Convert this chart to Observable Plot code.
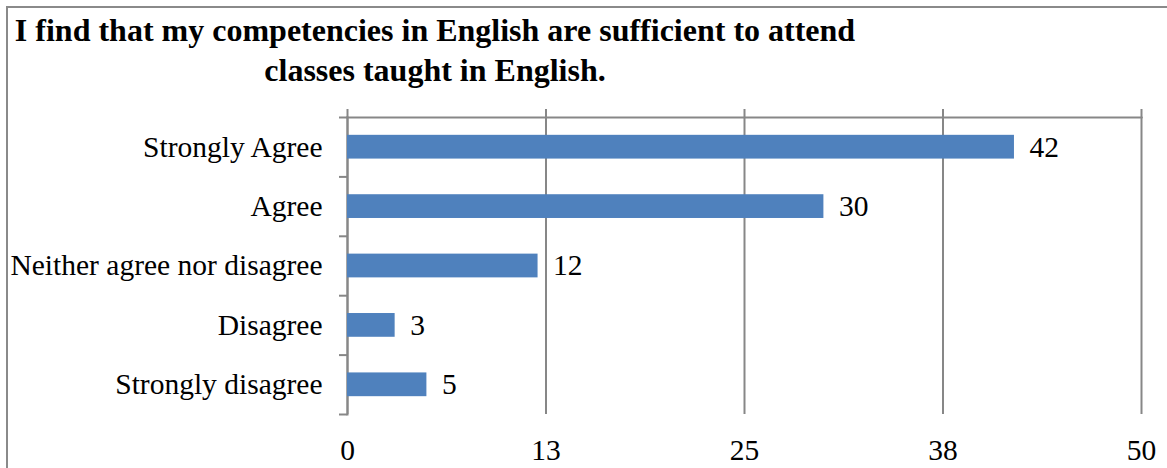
<!DOCTYPE html>
<html>
<head>
<meta charset="utf-8">
<script src="https://cdn.jsdelivr.net/npm/d3@7"></script>
<script src="https://cdn.jsdelivr.net/npm/@observablehq/plot@0.6"></script>
<style>
  body { margin: 0; background: #fff; }
  #wrap { position: relative; width: 1167px; height: 468px; overflow: hidden; background: #fff; }
  #border { position: absolute; left: 6px; top: 6px; width: 1300px; height: 600px;
            border-left: 2px solid #8a8a8a; border-top: 2px solid #8a8a8a; }
  #chart { position: absolute; left: 0; top: 0; }
  #title { position: absolute; left: 14px; top: 10px; width: 842px; text-align: center;
           font: bold 32px "Liberation Serif", "Times New Roman", serif; line-height: 40px; color: #000;
           white-space: nowrap; }
</style>
</head>
<body>
<div id="wrap">
  <div id="border"></div>
  <div id="chart"></div>
  <div id="title">I find that my competencies in English are sufficient to attend<br>classes taught in English.</div>
</div>
<script>
const categories = ["Strongly Agree", "Agree", "Neither agree nor disagree", "Disagree", "Strongly disagree"];
const values = [42, 30, 12, 3, 5];
const xTicks = [0, 12.5, 25, 37.5, 50];
const xTickLabels = ["0", "13", "25", "38", "50"];

const rows = categories.map((c, i) => ({cat: c, value: values[i], i}));
const boundaries = d3.range(categories.length + 1);
const gray = "#878787";
const blue = "#4f81bd";
const font = "Liberation Serif";
const fs = 29.5;

const chart = Plot.plot({
  width: 1167,
  height: 468,
  marginLeft: 347,
  marginRight: 26,
  marginTop: 117,
  marginBottom: 54,
  style: { fontFamily: font, fontSize: fs + "px", color: "#000", background: "transparent" },
  x: { domain: [0, 50] },
  y: { domain: [0, categories.length], reverse: true },
  marks: [
    Plot.gridX(xTicks, { stroke: gray, strokeOpacity: 1, strokeWidth: 2 }),
    Plot.axisX({ anchor: "top", ticks: xTicks, tickSize: 9, tickFormat: () => "", stroke: gray, strokeWidth: 2, label: null }),
    Plot.axisX({ anchor: "bottom", ticks: xTicks, tickSize: 0, tickPadding: 25, fontSize: fs,
                 tickFormat: (d) => xTickLabels[xTicks.indexOf(d)], label: null }),
    Plot.axisY({ anchor: "left", ticks: boundaries, tickSize: 8, tickFormat: () => "", stroke: gray, strokeWidth: 2, label: null }),
    Plot.frame({ anchor: "top", stroke: gray, strokeWidth: 2 }),
    Plot.frame({ anchor: "left", stroke: gray, strokeWidth: 2 }),
    Plot.rectX(rows, { x: "value", y1: (d) => d.i + 0.3, y2: (d) => d.i + 0.7, fill: blue }),
    Plot.text(rows, { x: "value", y: (d) => d.i + 0.5, text: (d) => String(d.value), dx: 15,
                      textAnchor: "start", fontSize: fs, fill: "#000" }),
    Plot.text(rows, { x: 0, y: (d) => d.i + 0.5, text: "cat", dx: -25, textAnchor: "end", fontSize: fs, fill: "#000" })
  ]
});
document.getElementById("chart").appendChild(chart);
</script>
</body>
</html>
